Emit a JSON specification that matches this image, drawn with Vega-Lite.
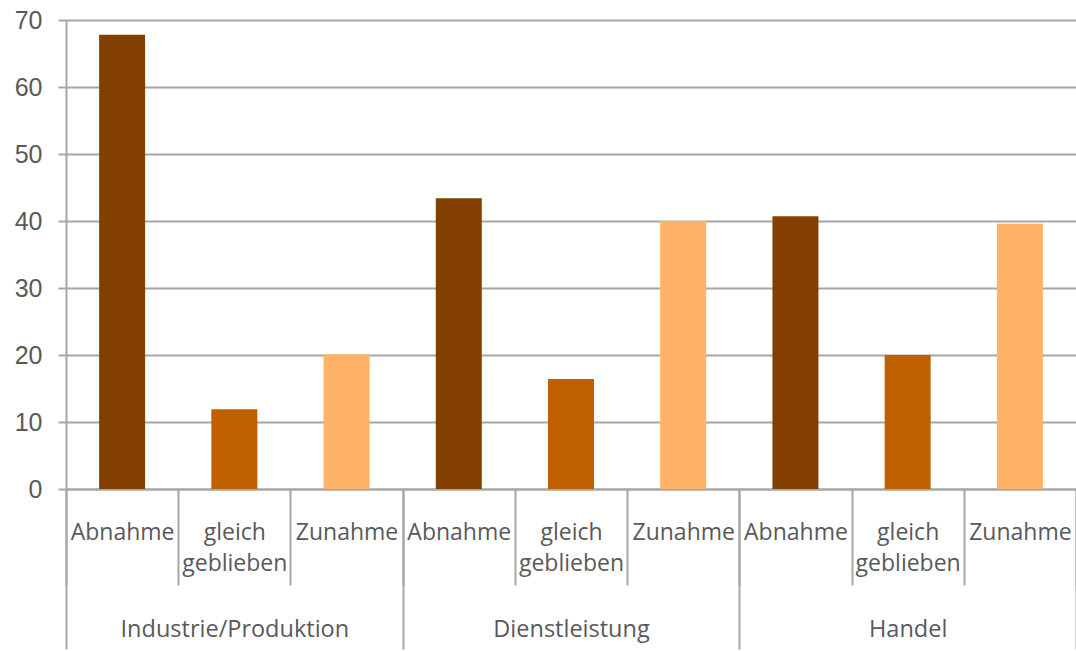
{
  "$schema": "https://vega.github.io/schema/vega-lite/v6.json",
  "width": 1010,
  "height": 469,
  "autosize": {"type": "none"},
  "padding": {"left": 66, "top": 20, "right": 0, "bottom": 162},
  "background": "white",
  "data": {
    "values": [
      {"group": "Industrie/Produktion", "cat": "Abnahme", "id": "Industrie/Produktion|Abnahme", "value": 67.8},
      {"group": "Industrie/Produktion", "cat": "gleich geblieben", "id": "Industrie/Produktion|gleich geblieben", "value": 11.9},
      {"group": "Industrie/Produktion", "cat": "Zunahme", "id": "Industrie/Produktion|Zunahme", "value": 20.1},
      {"group": "Dienstleistung", "cat": "Abnahme", "id": "Dienstleistung|Abnahme", "value": 43.4},
      {"group": "Dienstleistung", "cat": "gleich geblieben", "id": "Dienstleistung|gleich geblieben", "value": 16.4},
      {"group": "Dienstleistung", "cat": "Zunahme", "id": "Dienstleistung|Zunahme", "value": 40.0},
      {"group": "Handel", "cat": "Abnahme", "id": "Handel|Abnahme", "value": 40.7},
      {"group": "Handel", "cat": "gleich geblieben", "id": "Handel|gleich geblieben", "value": 20.0},
      {"group": "Handel", "cat": "Zunahme", "id": "Handel|Zunahme", "value": 39.6}
    ]
  },
  "layer": [
    {
      "mark": {"type": "bar", "width": 46},
      "encoding": {
        "x": {
          "field": "id", "type": "nominal", "sort": null,
          "scale": {"paddingInner": 0, "paddingOuter": 0},
          "axis": {
            "orient": "bottom", "title": null, "tickBand": "extent", "tickSize": 96,
            "tickColor": "#A6A6A6", "tickWidth": 2, "domainColor": "#A6A6A6", "domainWidth": 2,
            "labelAngle": 0, "labelPadding": -46, "labelBaseline": "alphabetic",
            "labelFont": "Open Sans", "labelFontSize": 23, "labelColor": "#595959",
            "labelLineHeight": 31, "labelOverlap": false, "labelLimit": 300,
            "labelExpr": "split(datum.value, '|')[1] == 'gleich geblieben' ? ['gleich', 'geblieben'] : split(datum.value, '|')[1]"
          }
        },
        "y": {
          "field": "value", "type": "quantitative",
          "scale": {"domain": [0, 70], "nice": false},
          "axis": {
            "title": null, "values": [0, 10, 20, 30, 40, 50, 60, 70],
            "grid": true, "gridColor": "#A6A6A6", "gridWidth": 2,
            "tickColor": "#A6A6A6", "tickWidth": 2, "tickSize": 8,
            "domainColor": "#A6A6A6", "domainWidth": 2,
            "labelPadding": 16, "labelFont": "Liberation Sans", "labelFontSize": 25, "labelColor": "#595959"
          }
        },
        "color": {
          "field": "cat", "type": "nominal",
          "scale": {"domain": ["Abnahme", "gleich geblieben", "Zunahme"], "range": ["#833F00", "#C05F00", "#FFB366"]},
          "legend": null
        }
      }
    },
    {
      "mark": {"type": "rule", "opacity": 0},
      "encoding": {
        "x": {
          "field": "group", "type": "nominal",
          "sort": ["Industrie/Produktion", "Dienstleistung", "Handel"],
          "scale": {"paddingInner": 0, "paddingOuter": 0},
          "axis": {
            "orient": "bottom", "title": null, "tickBand": "extent", "tickSize": 160,
            "tickColor": "#A6A6A6", "tickWidth": 2, "domain": false,
            "labelAngle": 0, "labelPadding": -13, "labelBaseline": "alphabetic",
            "labelFont": "Open Sans", "labelFontSize": 23.5, "labelColor": "#595959",
            "labelOverlap": false, "labelLimit": 400
          }
        }
      }
    }
  ],
  "resolve": {"scale": {"x": "independent"}, "axis": {"x": "independent"}},
  "config": {"view": {"stroke": null}}
}
